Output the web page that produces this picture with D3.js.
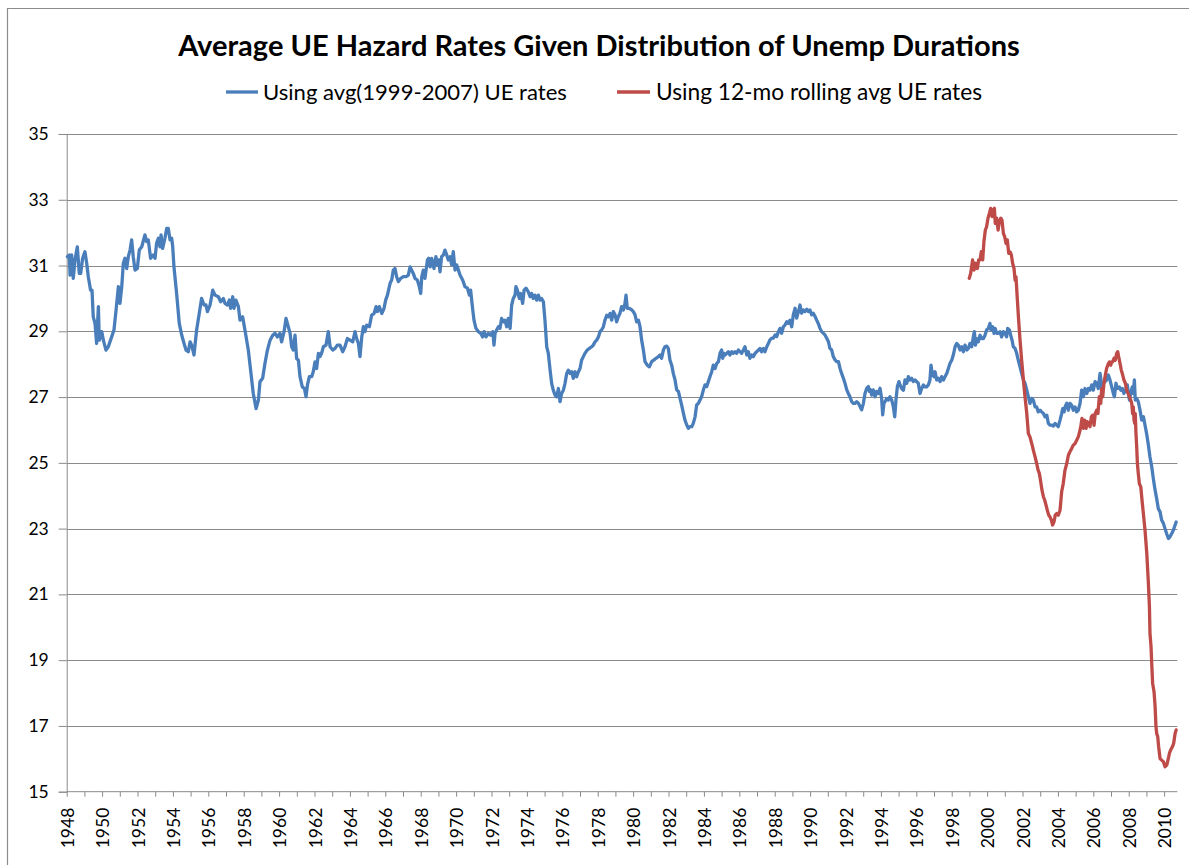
<!DOCTYPE html>
<html>
<head>
<meta charset="utf-8">
<script src="https://cdn.jsdelivr.net/npm/d3@7"></script>
<style>
  html, body { margin: 0; padding: 0; background: #ffffff; }
  svg { display: block; }
  text { font-family: "Lato", "Open Sans", sans-serif; fill: #000; }
</style>
</head>
<body>
<svg id="chart" width="1189" height="865"></svg>
<script>
// ---------------- DATA ----------------
const chartTitle = "Average UE Hazard Rates Given Distribution of Unemp Durations";
const seriesNames = ["Using avg(1999-2007) UE rates", "Using 12-mo rolling avg UE rates"];
const yTicks = [15, 17, 19, 21, 23, 25, 27, 29, 31, 33, 35];
const xLabelYears = d3.range(1948, 2011, 2);
const xTickYears = d3.range(1948, 2011, 1);

const blueYears = [
1948.04,1948.15,1948.19,1948.28,1948.37,1948.47,1948.60,1948.71,1948.79,1948.90,
1949.03,1949.13,1949.22,1949.35,1949.43,1949.50,1949.60,1949.69,1949.79,1949.84,1949.98,
1950.07,1950.22,1950.35,1950.54,1950.67,1950.79,1950.92,1951.01,1951.11,1951.20,1951.29,
1951.39,1951.48,1951.58,1951.67,1951.76,1951.86,1951.99,1952.10,1952.24,1952.42,1952.52,
1952.61,1952.74,1952.89,1952.99,1953.08,1953.18,1953.27,1953.33,1953.42,1953.55,1953.65,
1953.74,1953.84,1953.93,1953.99,1954.06,1954.21,1954.36,1954.50,1954.63,1954.74,1954.87,
1954.97,1955.06,1955.19,1955.34,1955.49,1955.62,1955.76,1955.87,1955.95,1956.10,1956.25,
1956.38,1956.57,1956.70,1956.85,1956.94,1957.08,1957.19,1957.26,1957.38,1957.45,1957.56,
1957.70,1957.79,1957.94,1958.07,1958.26,1958.39,1958.54,1958.70,1958.83,1958.92,1959.07,
1959.20,1959.34,1959.49,1959.64,1959.77,1959.90,1960.05,1960.14,1960.28,1960.39,1960.52,
1960.62,1960.71,1960.80,1960.90,1960.99,1961.09,1961.18,1961.31,1961.43,1961.52,1961.60,
1961.71,1961.84,1961.93,1962.03,1962.12,1962.22,1962.31,1962.40,1962.50,1962.65,1962.78,
1962.88,1963.03,1963.16,1963.29,1963.44,
1963.59,1963.72,1963.86,1964.01,1964.16,1964.29,1964.38,1964.48,1964.57,1964.67,1964.76,
1964.85,1964.95,1965.10,1965.23,1965.36,1965.48,1965.55,1965.66,1965.80,1965.93,1966.02,
1966.12,1966.27,1966.36,1966.45,1966.55,1966.64,1966.74,1966.87,1967.02,1967.17,1967.30,
1967.40,1967.49,1967.58,1967.68,1967.81,1967.92,1968.00,1968.06,1968.15,1968.24,1968.38,
1968.45,1968.53,1968.62,1968.75,1968.86,1968.94,1969.02,1969.09,1969.18,1969.28,1969.37,
1969.47,1969.56,1969.66,1969.75,1969.84,1969.94,1970.03,1970.13,1970.22,1970.37,1970.50,
1970.64,1970.75,1970.82,1970.94,1971.01,1971.12,1971.26,1971.39,1971.50,1971.58,1971.69,
1971.82,1971.95,1972.07,1972.14,1972.20,1972.29,1972.39,1972.48,1972.57,1972.67,1972.76,
1972.86,1972.95,1973.05,1973.14,1973.23,1973.33,1973.38,1973.46,1973.57,1973.65,1973.76,
1973.84,1973.95,1974.08,1974.18,1974.27,1974.36,1974.46,1974.55,1974.65,1974.74,1974.83,
1974.93,1975.02,1975.12,1975.21,1975.31,1975.40,1975.49,1975.59,1975.68,1975.78,1975.87,
1975.96,1976.06,1976.15,1976.25,1976.34,1976.44,1976.53,1976.62,1976.72,1976.81,1976.91,
1977.00,1977.09,1977.19,1977.28,1977.41,1977.53,1977.66,1977.75,1977.85,1977.94,1978.04,
1978.13,1978.22,1978.32,1978.41,1978.51,1978.60,1978.70,
1978.79,1978.88,1978.98,1979.07,1979.17,1979.26,1979.35,1979.45,1979.54,1979.60,1979.67,
1979.79,1979.92,1980.01,1980.11,1980.20,1980.30,1980.39,1980.48,1980.58,1980.67,1980.80,
1980.92,1981.05,1981.18,1981.29,1981.43,1981.52,1981.61,1981.71,1981.80,1981.90,1981.99,
1982.08,1982.18,1982.27,1982.37,1982.46,1982.56,1982.65,1982.74,1982.84,1982.93,1983.03,
1983.12,1983.21,1983.31,1983.40,1983.50,1983.59,1983.69,1983.78,1983.87,1983.97,1984.06,
1984.16,1984.25,1984.34,1984.44,1984.53,1984.63,1984.72,1984.82,1984.91,1985.00,1985.06,
1985.14,1985.19,1985.29,1985.38,1985.47,1985.57,1985.66,1985.76,1985.85,1985.95,1986.04,
1986.13,1986.23,1986.32,1986.42,1986.51,1986.60,1986.70,1986.79,1986.89,1986.98,1987.08,
1987.17,1987.26,1987.36,1987.45,1987.55,1987.64,1987.73,1987.83,1987.92,1988.02,1988.11,
1988.21,1988.30,1988.39,1988.49,1988.58,1988.68,1988.77,1988.86,1988.96,1989.05,1989.15,
1989.24,1989.34,1989.43,1989.52,1989.62,1989.71,1989.81,1989.90,1989.99,1990.09,1990.18,
1990.28,1990.37,1990.46,1990.56,1990.65,1990.75,1990.84,1990.94,1991.03,1991.12,1991.22,
1991.31,1991.41,1991.50,1991.60,1991.69,1991.78,1991.88,1991.97,1992.07,1992.16,1992.25,
1992.35,1992.44,1992.54,1992.63,1992.73,1992.82,1992.91,1993.01,1993.10,1993.20,1993.29,
1993.35,1993.42,1993.48,1993.57,1993.67,1993.76,1993.85,1993.95,1994.04,1994.10,1994.17,
1994.23,1994.33,1994.42,1994.51,1994.61,1994.70,1994.78,1994.85,1994.93,1995.02,
1995.08,1995.17,1995.27,1995.36,1995.46,1995.55,1995.64,1995.74,1995.83,1995.93,1996.02,
1996.11,1996.21,1996.30,1996.40,1996.49,1996.58,1996.68,1996.77,1996.83,1996.91,1997.00,
1997.06,1997.15,1997.25,1997.34,1997.43,1997.53,1997.62,1997.72,1997.81,1997.90,1998.00,
1998.09,1998.19,1998.28,1998.37,1998.47,1998.56,1998.66,1998.75,1998.85,1998.94,1999.03,
1999.13,1999.22,1999.28,1999.34,1999.41,1999.50,1999.60,1999.69,1999.79,1999.88,1999.97,
2000.07,2000.16,2000.22,2000.31,2000.39,2000.45,2000.54,2000.63,2000.73,2000.82,2000.92,
2001.01,2001.10,2001.16,2001.26,2001.33,2001.41,2001.48,2001.58,2001.67,2001.76,2001.86,
2001.95,2002.05,2002.14,2002.24,2002.33,2002.42,2002.52,2002.61,2002.71,2002.80,2002.89,
2002.99,2003.08,2003.18,2003.27,2003.37,2003.46,2003.55,2003.65,2003.74,2003.84,2003.93,
2004.02,2004.12,2004.21,2004.27,2004.35,2004.40,2004.50,2004.59,2004.68,2004.78,2004.87,
2004.97,2005.06,2005.15,2005.25,2005.34,2005.44,2005.53,2005.63,2005.72,2005.81,2005.91,
2006.00,2006.10,2006.19,2006.28,2006.38,2006.43,2006.49,2006.57,2006.66,2006.75,2006.85,
2006.94,2007.04,2007.13,2007.19,2007.28,2007.36,2007.47,2007.55,2007.64,2007.73,2007.85,
2007.92,2008.04,2008.11,2008.20,2008.26,2008.32,2008.37,2008.45,2008.54,2008.64,2008.73,
2008.83,2008.92,2009.01,2009.11,2009.20,2009.30,2009.39,2009.49,2009.58,2009.67,2009.77,
2009.86,2009.96,2010.05,2010.14,2010.24,2010.33,2010.43,2010.52,2010.62,2010.68
];
const blueValues = [
31.27,31.32,30.71,31.32,30.61,31.17,31.57,30.76,30.76,31.22,
31.42,31.07,30.66,30.25,30.25,29.44,29.24,28.63,29.75,28.73,28.99,
28.73,28.43,28.53,28.83,29.04,29.65,30.36,29.85,30.36,31.07,31.22,
30.91,31.27,31.47,31.78,31.27,30.86,30.91,31.47,31.57,31.93,31.73,
31.78,31.22,31.32,31.22,31.68,31.83,31.57,31.93,31.52,31.83,32.13,
32.13,31.78,31.83,31.57,30.96,30.15,29.24,28.88,28.63,28.43,28.38,
28.68,28.58,28.28,29.04,29.55,30.00,29.80,29.80,29.60,29.80,30.25,
30.10,30.05,29.90,30.00,29.85,29.80,29.95,29.70,30.05,29.70,29.95,
29.75,29.34,29.44,29.04,28.43,27.82,27.11,26.65,26.91,27.47,27.57,
28.02,28.43,28.73,28.88,28.94,28.83,28.94,28.68,28.99,29.39,29.14,
28.94,28.53,28.43,28.88,28.17,28.12,27.62,27.31,27.26,27.01,27.36,
27.62,27.62,27.77,28.07,27.87,28.33,28.23,28.33,28.53,28.58,28.99,
28.53,28.43,28.48,28.58,28.58,
28.38,28.53,28.78,28.73,28.68,28.99,28.78,28.63,28.23,28.83,29.14,
28.99,29.19,29.14,29.49,29.54,29.75,29.60,29.75,29.54,29.70,29.95,
30.10,30.46,30.56,30.86,30.91,30.66,30.51,30.61,30.66,30.66,30.71,
30.96,30.86,30.76,30.61,30.56,30.36,30.15,30.66,30.86,30.61,31.17,
31.22,30.96,31.22,30.91,31.27,31.02,31.17,30.81,31.27,31.32,31.47,
31.32,31.17,31.27,31.02,31.42,30.86,31.02,30.86,30.71,30.56,30.36,
30.31,30.10,30.25,29.65,29.34,29.09,28.99,28.94,28.83,28.99,28.83,
28.94,28.88,28.99,28.58,28.94,29.04,29.14,29.09,29.39,29.29,29.34,
29.14,29.39,29.09,29.80,30.00,30.10,30.36,30.25,30.00,30.15,29.85,
30.25,30.31,30.20,30.05,30.15,30.00,30.10,29.95,30.10,29.95,30.00,
29.90,29.34,28.53,28.33,27.82,27.41,27.21,27.06,27.01,27.26,26.86,
27.11,27.21,27.41,27.72,27.82,27.72,27.77,27.57,27.77,27.62,27.77,
27.87,28.12,28.23,28.33,28.43,28.48,28.53,28.58,28.68,28.73,28.83,
28.99,29.04,29.14,29.34,29.49,29.44,29.54,
29.34,29.60,29.50,29.29,29.45,29.55,29.75,29.65,29.85,30.10,29.70,
29.70,29.65,29.60,29.50,29.29,29.34,29.14,28.74,28.43,28.08,27.97,
27.92,28.08,28.13,28.18,28.23,28.28,28.18,28.43,28.53,28.55,28.48,
28.13,27.97,27.72,27.52,27.22,27.17,26.96,26.76,26.51,26.30,26.15,
26.05,26.10,26.10,26.20,26.40,26.76,26.81,26.91,27.01,27.22,27.37,
27.32,27.47,27.62,27.77,27.97,27.87,28.02,28.08,28.33,28.43,28.18,
28.33,28.28,28.33,28.38,28.28,28.38,28.33,28.38,28.33,28.43,28.38,
28.33,28.43,28.53,28.28,28.38,28.18,28.28,28.23,28.33,28.38,28.43,
28.48,28.38,28.48,28.38,28.53,28.63,28.74,28.79,28.79,28.89,28.84,
28.99,29.09,28.94,29.14,29.19,29.29,29.24,29.34,29.14,29.50,29.70,
29.40,29.60,29.80,29.55,29.65,29.60,29.67,29.60,29.65,29.50,29.55,
29.45,29.34,29.24,29.09,28.99,28.94,28.89,28.79,28.69,28.48,28.43,
28.23,28.13,28.08,28.08,27.87,27.72,27.57,27.42,27.22,27.11,27.01,
26.86,26.81,26.81,26.86,26.81,26.71,26.61,26.81,27.11,27.27,27.32,
27.17,27.22,27.06,27.22,27.01,27.17,27.11,27.27,26.96,26.46,26.81,
26.86,26.96,26.91,27.01,26.91,26.71,26.40,26.91,27.32,27.47,
27.37,27.26,27.21,27.52,27.42,27.62,27.52,27.57,27.47,27.52,27.47,
27.42,27.11,27.26,27.37,27.31,27.31,27.37,27.52,27.97,27.67,27.62,
27.77,27.52,27.57,27.47,27.62,27.52,27.62,27.72,27.87,28.02,28.12,
28.28,28.53,28.63,28.58,28.43,28.53,28.38,28.58,28.43,28.48,28.63,
28.53,28.83,28.99,28.58,28.78,28.68,28.88,28.78,28.78,28.88,29.04,
29.09,29.24,29.04,29.14,28.94,29.09,28.94,28.94,28.99,28.83,28.99,
28.94,28.83,29.09,29.04,28.88,28.73,28.53,28.48,28.33,28.12,27.92,
27.72,27.52,27.42,27.21,27.01,26.81,26.96,26.91,26.70,26.70,26.55,
26.60,26.55,26.50,26.40,26.45,26.20,26.15,26.15,26.12,26.20,26.15,
26.10,26.30,26.50,26.65,26.55,26.70,26.81,26.60,26.81,26.75,26.60,
26.70,26.55,26.60,26.81,27.21,27.01,27.26,27.11,27.26,27.21,27.37,
27.21,27.47,27.42,27.26,27.72,27.52,27.21,27.42,27.47,27.52,27.67,
27.52,27.31,27.11,27.01,27.42,27.26,27.31,27.21,27.26,27.11,27.26,
27.37,26.91,27.11,27.31,27.11,27.52,26.91,26.96,26.86,26.60,26.30,
26.40,26.15,25.89,25.54,25.18,24.88,24.52,24.17,23.91,23.61,23.51,
23.26,23.16,23.00,22.85,22.70,22.75,22.85,22.95,23.11,23.20
];

const redYears = [
1998.99,1999.07,1999.18,1999.26,1999.35,1999.45,1999.52,1999.60,1999.67,1999.75,1999.82,
1999.90,1999.97,2000.05,2000.13,2000.20,2000.28,2000.35,2000.41,2000.46,2000.54,2000.62,
2000.69,2000.77,2000.84,2000.92,2000.99,2001.07,2001.14,2001.22,2001.29,2001.37,2001.44,
2001.52,2001.58,2001.63,2001.71,2001.78,2001.86,2001.95,2002.05,2002.14,2002.24,2002.33,
2002.42,2002.52,2002.61,2002.71,2002.80,2002.88,2002.95,2003.03,2003.10,2003.18,2003.25,
2003.33,2003.40,2003.48,2003.55,2003.63,2003.70,2003.78,2003.85,2003.93,2004.02,2004.12,
2004.21,2004.30,2004.40,2004.50,2004.59,2004.68,2004.78,2004.87,2004.97,2005.06,2005.15,
2005.25,2005.30,2005.36,2005.44,2005.51,2005.59,2005.66,2005.74,2005.81,2005.89,2005.96,
2006.04,2006.11,2006.19,2006.26,2006.34,2006.42,2006.47,2006.53,2006.60,2006.66,2006.75,
2006.85,2006.91,2006.98,2007.04,2007.09,2007.17,2007.24,2007.32,2007.38,2007.43,2007.51,
2007.58,2007.66,2007.73,2007.81,2007.88,2007.96,2008.04,2008.11,2008.17,2008.22,2008.26,
2008.30,2008.34,2008.37,2008.41,2008.45,2008.49,2008.54,2008.60,2008.68,2008.75,
2008.92,2009.02,2009.11,2009.17,2009.20,2009.26,2009.30,2009.35,2009.43,2009.49,2009.54,
2009.58,2009.64,2009.69,2009.77,2009.86,2009.96,2010.05,2010.15,2010.24,2010.30,2010.37,
2010.47,2010.54,2010.62,2010.68
];
const redValues = [
30.61,30.76,31.17,30.86,31.07,30.91,31.17,31.17,31.42,31.17,31.73,
32.08,32.18,32.44,32.59,32.74,32.49,32.69,32.74,32.28,32.44,32.08,
32.33,32.44,32.38,31.98,31.88,31.67,31.78,31.37,31.42,31.32,31.07,
30.91,30.56,30.66,29.95,29.34,28.73,28.12,27.52,27.01,26.50,25.89,
25.79,25.59,25.39,25.18,24.98,24.78,24.68,24.42,24.17,23.97,23.87,
23.71,23.56,23.41,23.36,23.26,23.11,23.21,23.41,23.46,23.41,23.56,
24.12,24.37,24.78,24.98,25.23,25.34,25.44,25.54,25.59,25.69,25.79,
25.99,26.14,26.35,26.05,26.30,26.05,26.25,26.20,26.10,26.40,26.45,
26.14,26.50,26.60,26.50,27.01,26.81,27.26,27.01,27.42,27.62,27.87,
28.02,28.07,27.97,28.07,28.07,28.18,28.12,28.33,28.38,28.23,28.02,
27.82,27.67,27.52,27.42,27.21,27.11,27.01,26.91,26.81,26.50,26.70,
26.30,26.20,26.50,25.89,25.49,24.98,24.68,24.37,24.27,23.87,
22.96,22.25,21.34,20.63,19.82,19.41,18.90,18.30,18.04,17.59,16.98,
16.77,16.67,16.37,16.01,15.96,15.91,15.76,15.81,16.01,16.17,16.27,
16.37,16.47,16.77,16.88
];

const seriesColors = ["#4a7ebb", "#be4b48"];

// ---------------- CHART ----------------
const svg = d3.select("#chart");
const W = 1189, H = 865;
const plot = { left: 66.7, right: 1177.4, top: 134, bottom: 791.7 };

svg.append("rect").attr("width", W).attr("height", H).attr("fill", "#fff");
// outer chart frame (extends past the right/bottom picture edge)
svg.append("path")
  .attr("d", `M7.5,${H + 5} V8.5 H${W + 5}`)
  .attr("fill", "none").attr("stroke", "#8c8c8c").attr("stroke-width", 1.2);

const x = d3.scaleLinear().domain([1948, 2010.75]).range([plot.left, plot.right]);
const y = d3.scaleLinear().domain([15, 35]).range([plot.bottom, plot.top]);

// gridlines
svg.append("g").selectAll("line").data(yTicks.filter(v => v !== 15)).join("line")
  .attr("x1", plot.left).attr("x2", plot.right)
  .attr("y1", d => Math.round(y(d)) + 0.5).attr("y2", d => Math.round(y(d)) + 0.5)
  .attr("stroke", "#8a8a8a").attr("stroke-width", 1);

// Y axis
const yAxis = d3.axisLeft(y).tickValues(yTicks).tickSize(8).tickPadding(10).tickFormat(d3.format("d"));
const gy = svg.append("g").attr("transform", `translate(${plot.left},0)`).call(yAxis);
gy.select(".domain").attr("stroke", "#8a8a8a");
gy.selectAll(".tick line").attr("stroke", "#8a8a8a");
gy.selectAll(".tick text").attr("font-family", "Lato, sans-serif").attr("font-size", 17.5).attr("fill", "#000");

// X axis (year tick marks, labels every 2 years)
const xAxis = d3.axisBottom(x).tickValues(xTickYears).tickSize(5).tickFormat("");
const gx = svg.append("g").attr("transform", `translate(0,${plot.bottom})`).call(xAxis);
gx.select(".domain").attr("stroke", "#8a8a8a").attr("d", `M${plot.left},0H${plot.right}`);
gx.selectAll(".tick line").attr("stroke", "#8a8a8a");

svg.append("g").selectAll("text").data(xLabelYears).join("text")
  .attr("transform", d => `translate(${x(d) + 1},${plot.bottom + 16}) rotate(-90)`)
  .attr("text-anchor", "end").attr("dy", "0.35em")
  .attr("font-size", 17.5)
  .text(d => d);

// lines
const line = d3.line().x(d => x(d[0])).y(d => y(d[1])).curve(d3.curveLinear);
const blueData = d3.zip(blueYears, blueValues);
const redData = d3.zip(redYears, redValues);
svg.append("path").datum(blueData).attr("d", line)
  .attr("fill", "none").attr("stroke", seriesColors[0]).attr("stroke-width", 3.3)
  .attr("stroke-linejoin", "round").attr("stroke-linecap", "round");
svg.append("path").datum(redData).attr("d", line)
  .attr("fill", "none").attr("stroke", seriesColors[1]).attr("stroke-width", 3.3)
  .attr("stroke-linejoin", "round").attr("stroke-linecap", "round");

// title
function fitText(sel, target) {
  const fs = parseFloat(sel.attr("font-size"));
  const len = sel.node().getComputedTextLength();
  if (len > 0) sel.attr("font-size", (fs * target / len).toFixed(2));
}
const title = svg.append("text").attr("x", 599).attr("y", 56)
  .attr("text-anchor", "middle").attr("font-weight", "bold").attr("font-size", 26)
  .text(chartTitle);
fitText(title, 842);

// legend
const legendItems = [
  { name: seriesNames[0], color: seriesColors[0], x0: 226, x1: 258, tx: 263, w: 304 },
  { name: seriesNames[1], color: seriesColors[1], x0: 617, x1: 650, tx: 656, w: 326 }
];
const lg = svg.append("g");
legendItems.forEach(it => {
  lg.append("line").attr("x1", it.x0).attr("x2", it.x1).attr("y1", 92).attr("y2", 92)
    .attr("stroke", it.color).attr("stroke-width", 3.3);
  const t = lg.append("text").attr("x", it.tx).attr("y", 92).attr("dy", "0.35em")
    .attr("font-size", 19).text(it.name);
  fitText(t, it.w);
});
</script>
</body>
</html>
